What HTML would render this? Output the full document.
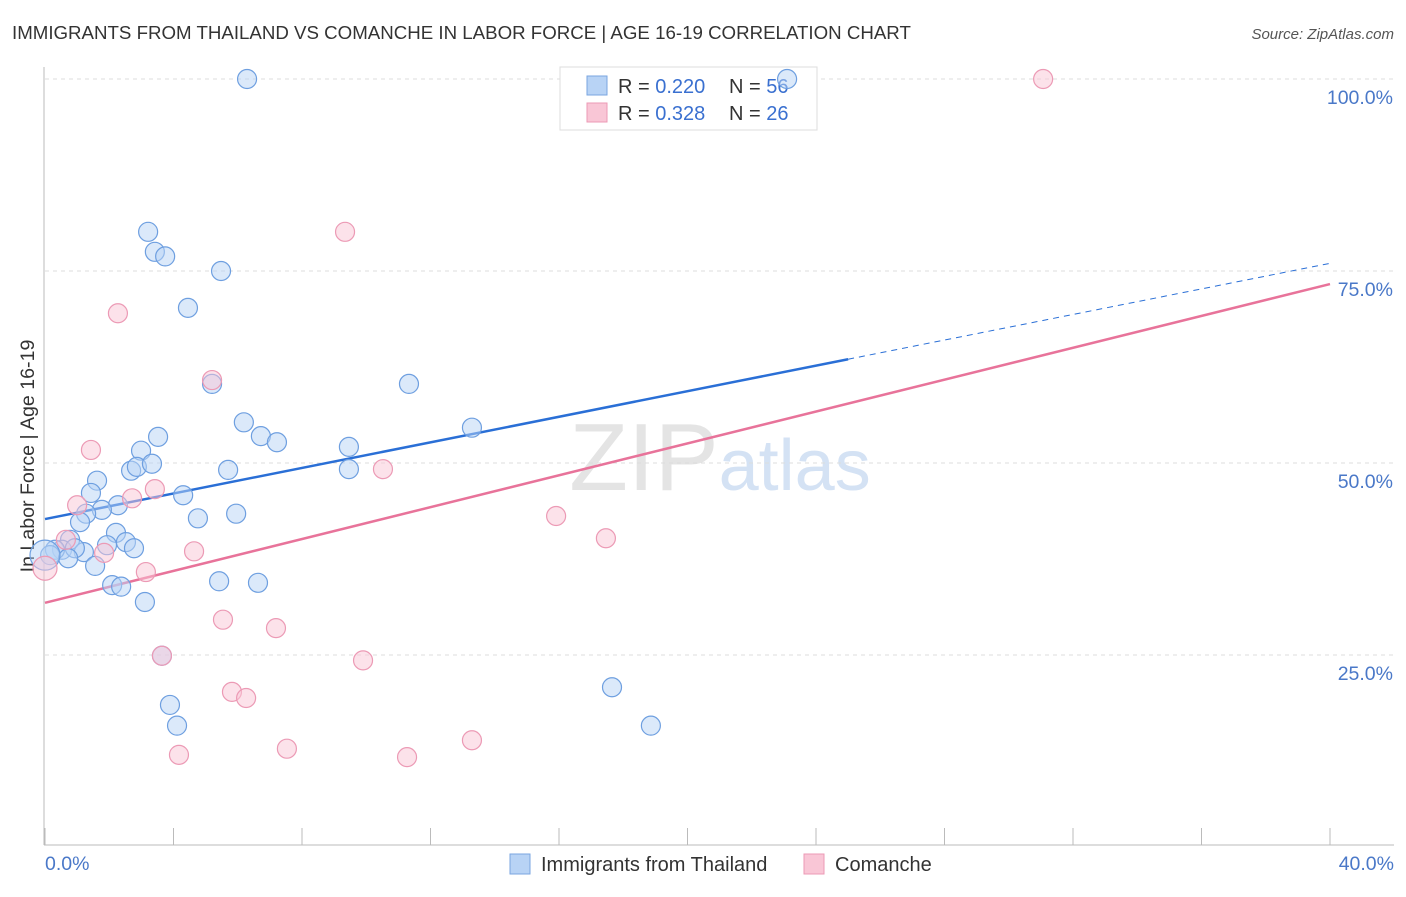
<!DOCTYPE html>
<html><head><meta charset="utf-8"><style>
body{margin:0;background:#fff;font-family:"Liberation Sans",sans-serif;}
svg text{font-family:"Liberation Sans",sans-serif;}
</style></head><body>
<svg width="1406" height="892" xmlns="http://www.w3.org/2000/svg" id="chart">
<text x="12" y="39" font-size="18.7" fill="#333">IMMIGRANTS FROM THAILAND VS COMANCHE IN LABOR FORCE | AGE 16-19 CORRELATION CHART</text>
<text x="1394" y="39" font-size="15" fill="#555" text-anchor="end" font-style="italic">Source: ZipAtlas.com</text>
<text x="720" y="490" font-size="96" fill="#e4e4e4" text-anchor="middle" font-family="Liberation Serif">ZIP<tspan fill="#d4e2f4" font-family="Liberation Sans" font-size="72">atlas</tspan></text>
<g id="grid"></g>
<line x1="44" y1="67" x2="44" y2="845" stroke="#bbb"/>
<line x1="44" y1="845" x2="1394" y2="845" stroke="#bbb"/>
<g id="ticks"></g>
<text transform="translate(34,456) rotate(-90)" font-size="19.6" fill="#333" text-anchor="middle">In Labor Force | Age 16-19</text>
<text x="45" y="870" font-size="19.5" fill="#4a78c8">0.0%</text>
<text x="1394" y="870" font-size="19.5" fill="#4a78c8" text-anchor="end">40.0%</text>
<g>
<rect x="560" y="67" width="257" height="63" fill="#fff" stroke="#ddd"/>
<rect x="587" y="76" width="20" height="19" fill="#b8d3f5" stroke="#7aa6e0"/>
<rect x="587" y="103" width="20" height="19" fill="#f9c6d6" stroke="#ec9ab5"/>
<text x="618" y="93" font-size="20" fill="#333">R = <tspan fill="#3a70d0">0.220</tspan></text>
<text x="729" y="93" font-size="20" fill="#333">N = <tspan fill="#3a70d0">56</tspan></text>
<text x="618" y="120" font-size="20" fill="#333">R = <tspan fill="#3a70d0">0.328</tspan></text>
<text x="729" y="120" font-size="20" fill="#333">N = <tspan fill="#3a70d0">26</tspan></text>
</g>
<g id="trends"></g>
<g id="points"></g>
<g>
<rect x="510" y="854" width="20" height="20" fill="#b8d3f5" stroke="#7aa6e0"/>
<text x="541" y="871" font-size="20" fill="#333">Immigrants from Thailand</text>
<rect x="804" y="854" width="20" height="20" fill="#f9c6d6" stroke="#ec9ab5"/>
<text x="835" y="871" font-size="20" fill="#333">Comanche</text>
</g>
</svg>
<script>
const blueX=[6.29,23.1,3.21,3.42,3.74,5.48,4.45,5.20,11.33,6.19,6.72,7.22,3.52,2.99,9.46,13.29,2.68,2.86,3.33,5.70,9.46,1.62,1.43,4.30,2.27,1.77,1.28,1.09,4.76,5.95,2.21,2.52,0.78,1.93,2.77,0.53,1.21,0.93,0.31,0.16,0.72,1.56,2.09,2.37,5.42,6.63,3.11,3.64,3.89,4.11,17.65,18.86,0];
const blueY=[100,100,80.1,77.5,76.9,75.0,70.2,60.3,60.3,55.3,53.5,52.7,53.4,51.6,52.1,54.6,49.0,49.5,49.9,49.1,49.2,47.7,46.1,45.8,44.5,43.9,43.4,42.3,42.8,43.4,40.9,39.7,40.0,39.3,38.9,38.7,38.4,38.9,38.7,38.0,37.6,36.6,34.1,33.9,34.6,34.4,31.9,24.9,18.5,15.8,20.8,15.8,38.0];
const pinkX=[31.07,9.34,2.27,5.20,1.43,10.52,1.0,3.42,2.71,0.65,1.84,4.64,15.91,17.46,3.14,5.54,7.19,3.64,9.90,5.82,6.26,7.53,4.17,11.27,13.29,0];
const pinkY=[100,80.1,69.5,60.8,51.7,49.2,44.5,46.6,45.4,40.0,38.3,38.5,43.1,40.2,35.8,29.6,28.5,24.9,24.3,20.2,19.4,12.8,12.0,11.7,13.9,36.3];
const yTicks=[25,50,75,100];
const yTickLabels=["25.0%","50.0%","75.0%","100.0%"];
const blueTrend=[42.7,76.0];
const pinkTrend=[31.8,73.3];
const NS="http://www.w3.org/2000/svg";
const sx=v=>45+v/40*1285;
const sy=v=>847-v*7.68;
function mk(t,a,p){const e=document.createElementNS(NS,t);for(const k in a)e.setAttribute(k,a[k]);document.getElementById(p).appendChild(e);return e;}
yTicks.forEach((t,i)=>{
  const l=mk('line',{x1:45,x2:1394,y1:sy(t),y2:sy(t),stroke:'#ddd','stroke-dasharray':'4,4'},'grid');
  
  
  const tx=mk('text',{x:1393,y:sy(t)+25,'font-size':19.5,fill:'#4a78c8','text-anchor':'end'},'grid');
  tx.textContent=yTickLabels[i];
  
  
});
for(let i=0;i<=10;i++){
  const l=mk('line',{x1:sx(i*4),x2:sx(i*4),y1:828,y2:845,stroke:'#bbb'},'ticks');
  
  
}
function pt(x,y,r,fill,stroke){const c=mk('circle',{cx:sx(x),cy:sy(y),r:r,fill:fill,'fill-opacity':0.5,stroke:stroke,'stroke-width':1.2},'points');return c;}
blueX.forEach((x,i)=>{const c=pt(x,blueY[i],x===0?15:9.5,'#b8d3f5','#6e9fe0');
  
  });
pinkX.forEach((x,i)=>{const c=pt(x,pinkY[i],x===0?12:9.5,'#f9c6d6','#ec9ab5');
  
  });
const bAt=x=>blueTrend[0]+(blueTrend[1]-blueTrend[0])*x/40;
let l1=mk('line',{x1:sx(0),y1:sy(bAt(0)),x2:sx(25),y2:sy(bAt(25)),stroke:'#2a6fd6','stroke-width':2.5},'trends');


let l2=mk('line',{x1:sx(25),y1:sy(bAt(25)),x2:sx(40),y2:sy(bAt(40)),stroke:'#2a6fd6','stroke-width':1,'stroke-dasharray':'6,5'},'trends');


let l3=mk('line',{x1:sx(0),y1:sy(pinkTrend[0]),x2:sx(40),y2:sy(pinkTrend[1]),stroke:'#e8739a','stroke-width':2.5},'trends');


</script>
</body></html>
